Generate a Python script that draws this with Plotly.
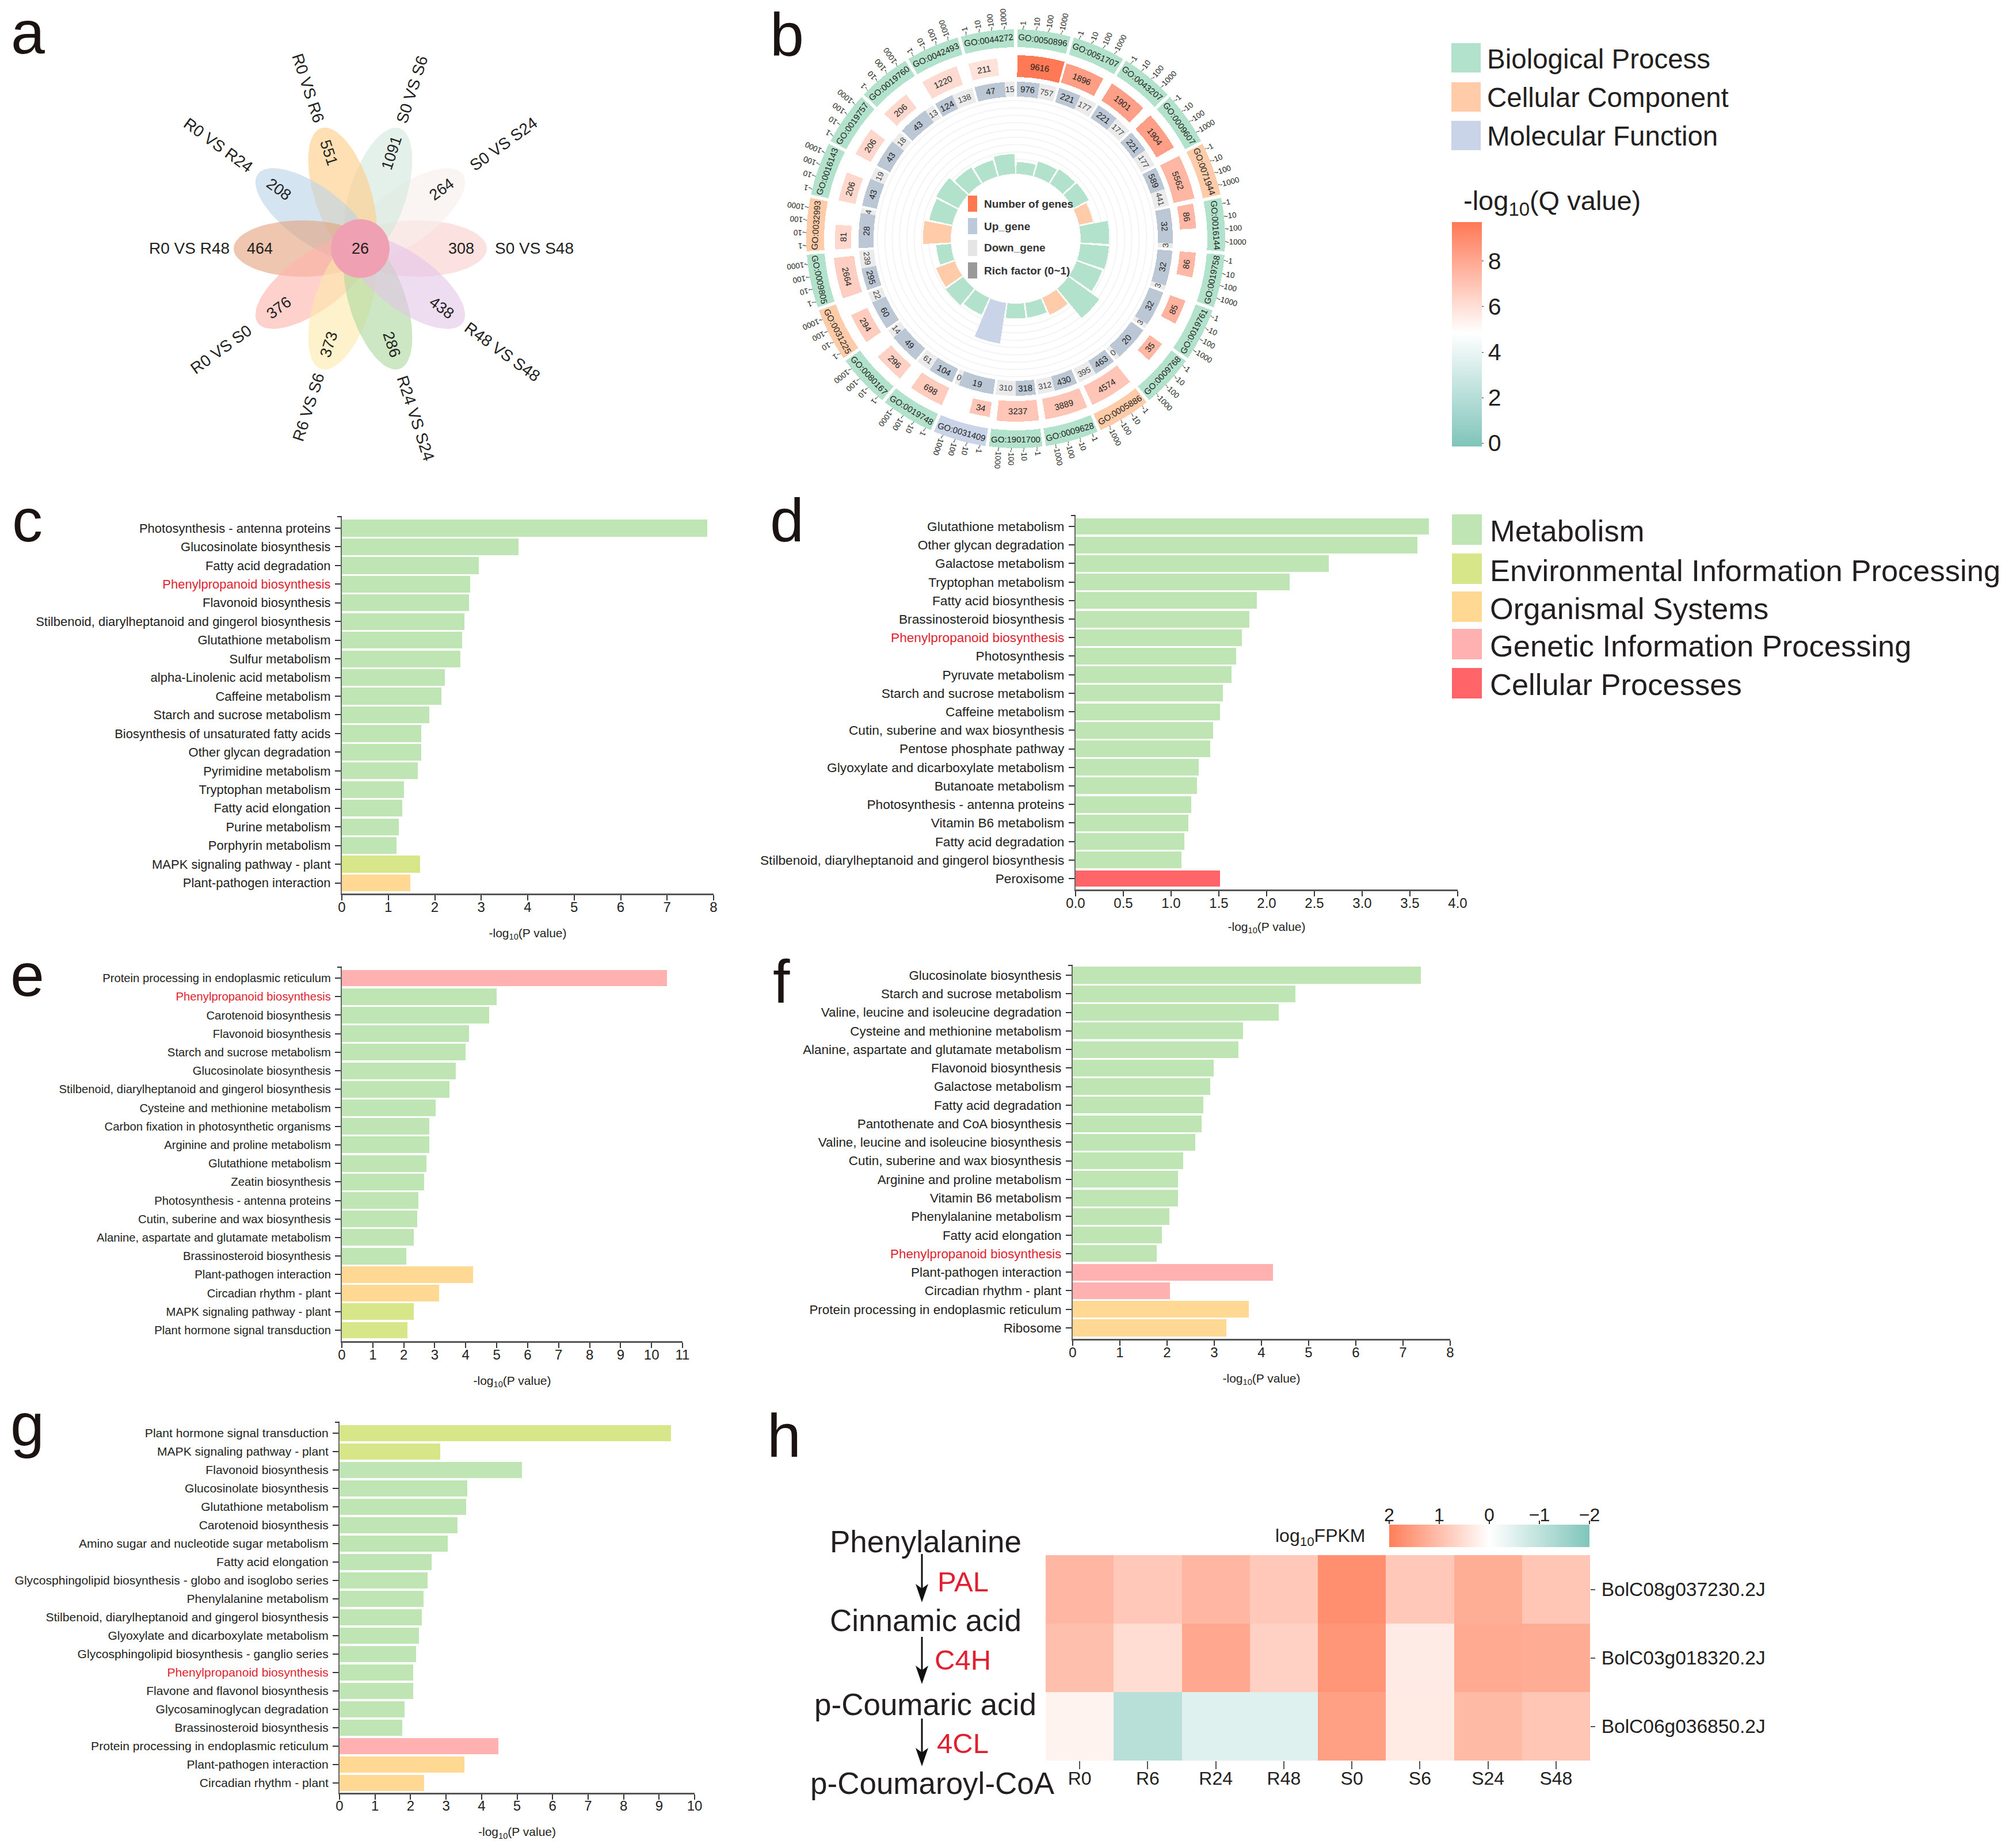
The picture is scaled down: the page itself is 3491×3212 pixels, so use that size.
import math
import plotly.graph_objects as go

W, H = 3491, 3212
FONT = "Liberation Sans"
INK = "#231f20"
RED = "#e01f30"

# ---------- colours ----------
MET, ENV, ORG, GEN, CEL = "#bfe5b5", "#d6e689", "#ffd894", "#ffb0b0", "#ff6468"
CLS = {"M": MET, "E": ENV, "O": ORG, "G": GEN, "C": CEL}
BP, CC, MF = "#b2e2cb", "#ffcba8", "#cad4e8"
GO_CLS = {"B": BP, "C": CC, "F": MF}
UP, DOWN = "#bcc7d6", "#ebebeb"

# ---------- panel a data ----------
petal_labels = ["S0 VS S48", "S0 VS S24", "S0 VS S6", "R0 VS R6", "R0 VS R24",
                "R0 VS R48", "R0 VS S0", "R6 VS S6", "R24 VS S24", "R48 VS S48"]
petal_counts = [308, 264, 1091, 551, 208, 464, 376, 373, 286, 438]
petal_colors = ["rgba(250,205,205,.6)", "rgba(247,238,235,.6)", "rgba(208,232,220,.6)",
                "rgba(255,203,132,.6)", "rgba(185,210,232,.6)", "rgba(229,162,125,.6)",
                "rgba(253,179,172,.6)", "rgba(252,233,168,.6)", "rgba(172,215,157,.6)",
                "rgba(227,197,232,.6)"]
core_count = 26

# ---------- panel b data ----------
go_ids = ["GO:0050896", "GO:0051707", "GO:0043207", "GO:0009607", "GO:0071944", "GO:0016144",
          "GO:0019758", "GO:0019761", "GO:0009768", "GO:0005886", "GO:0009628", "GO:1901700",
          "GO:0031409", "GO:0019748", "GO:0080167", "GO:0031225", "GO:0009805", "GO:0032993",
          "GO:0016143", "GO:0019757", "GO:0019760", "GO:0042493", "GO:0044272"]
go_class = list("BBBBCBBBBCBBFBBCBCBBBBB")
go_genes = [9616, 1896, 1901, 1904, 5562, 86, 86, 85, 35, 4574, 3889, 3237, 34, 698, 296, 294,
            2664, 81, 206, 206, 206, 1220, 211]
go_q = [9.7, 8.36, 8.3, 8.3, 7.5, 7.4, 7.4, 7.6, 7.5, 6.9, 6.9, 6.9, 6.9, 6.7, 6.5, 6.7, 6.6,
        6.3, 6.3, 6.3, 6.3, 6.2, 5.9]
go_up = [976, 221, 221, 221, 589, 32, 32, 32, 20, 463, 430, 318, 19, 104, 49, 60, 295, 28, 43,
         43, 43, 124, 47]
go_down = [757, 177, 177, 177, 441, 3, 3, 3, 0, 395, 312, 310, 0, 61, 14, 22, 239, 4, 19, 18,
           13, 138, 15]
go_rich = [.16, .21, .23, .24, .19, .39, .39, .37, .52, .25, .20, .20, .56, .25, .29, .27, .20,
           .38, .32, .34, .26, .23, .27]
tick_names = ["-1", "-10", "-100", "-1000"]

# ---------- bar panels ----------
c_terms = ["Photosynthesis - antenna proteins", "Glucosinolate biosynthesis", "Fatty acid degradation",
           "Phenylpropanoid biosynthesis", "Flavonoid biosynthesis",
           "Stilbenoid, diarylheptanoid and gingerol biosynthesis", "Glutathione metabolism",
           "Sulfur metabolism", "alpha-Linolenic acid metabolism", "Caffeine metabolism",
           "Starch and sucrose metabolism", "Biosynthesis of unsaturated fatty acids",
           "Other glycan degradation", "Pyrimidine metabolism", "Tryptophan metabolism",
           "Fatty acid elongation", "Purine metabolism", "Porphyrin metabolism",
           "MAPK signaling pathway - plant", "Plant-pathogen interaction"]
c_vals = [7.86, 3.80, 2.95, 2.76, 2.74, 2.64, 2.59, 2.55, 2.22, 2.14, 1.88, 1.71, 1.71, 1.63,
          1.34, 1.30, 1.22, 1.18, 1.69, 1.47]
c_cls = "M" * 18 + "EO"

d_terms = ["Glutathione metabolism", "Other glycan degradation", "Galactose metabolism",
           "Tryptophan metabolism", "Fatty acid biosynthesis", "Brassinosteroid biosynthesis",
           "Phenylpropanoid biosynthesis", "Photosynthesis", "Pyruvate metabolism",
           "Starch and sucrose metabolism", "Caffeine metabolism", "Cutin, suberine and wax biosynthesis",
           "Pentose phosphate pathway", "Glyoxylate and dicarboxylate metabolism", "Butanoate metabolism",
           "Photosynthesis - antenna proteins", "Vitamin B6 metabolism", "Fatty acid degradation",
           "Stilbenoid, diarylheptanoid and gingerol biosynthesis", "Peroxisome"]
d_vals = [3.70, 3.58, 2.65, 2.24, 1.90, 1.82, 1.74, 1.68, 1.63, 1.54, 1.51, 1.44, 1.41, 1.29,
          1.27, 1.21, 1.18, 1.14, 1.11, 1.51]
d_cls = "M" * 19 + "C"

e_terms = ["Protein processing in endoplasmic reticulum", "Phenylpropanoid biosynthesis",
           "Carotenoid biosynthesis", "Flavonoid biosynthesis", "Starch and sucrose metabolism",
           "Glucosinolate biosynthesis", "Stilbenoid, diarylheptanoid and gingerol biosynthesis",
           "Cysteine and methionine metabolism", "Carbon fixation in photosynthetic organisms",
           "Arginine and proline metabolism", "Glutathione metabolism", "Zeatin biosynthesis",
           "Photosynthesis - antenna proteins", "Cutin, suberine and wax biosynthesis",
           "Alanine, aspartate and glutamate metabolism", "Brassinosteroid biosynthesis",
           "Plant-pathogen interaction", "Circadian rhythm - plant", "MAPK signaling pathway - plant",
           "Plant hormone signal transduction"]
e_vals = [10.49, 4.99, 4.75, 4.11, 3.99, 3.68, 3.48, 3.02, 2.82, 2.82, 2.74, 2.65, 2.48, 2.43,
          2.33, 2.08, 4.24, 3.14, 2.33, 2.11]
e_cls = "G" + "M" * 15 + "OOEE"

f_terms = ["Glucosinolate biosynthesis", "Starch and sucrose metabolism",
           "Valine, leucine and isoleucine degradation", "Cysteine and methionine metabolism",
           "Alanine, aspartate and glutamate metabolism", "Flavonoid biosynthesis", "Galactose metabolism",
           "Fatty acid degradation", "Pantothenate and CoA biosynthesis",
           "Valine, leucine and isoleucine biosynthesis", "Cutin, suberine and wax biosynthesis",
           "Arginine and proline metabolism", "Vitamin B6 metabolism", "Phenylalanine metabolism",
           "Fatty acid elongation", "Phenylpropanoid biosynthesis", "Plant-pathogen interaction",
           "Circadian rhythm - plant", "Protein processing in endoplasmic reticulum", "Ribosome"]
f_vals = [7.38, 4.72, 4.37, 3.61, 3.51, 2.99, 2.92, 2.77, 2.73, 2.60, 2.34, 2.23, 2.23, 2.05,
          1.89, 1.78, 4.24, 2.06, 3.73, 3.26]
f_cls = "M" * 16 + "GGOO"

g_terms = ["Plant hormone signal transduction", "MAPK signaling pathway - plant", "Flavonoid biosynthesis",
           "Glucosinolate biosynthesis", "Glutathione metabolism", "Carotenoid biosynthesis",
           "Amino sugar and nucleotide sugar metabolism", "Fatty acid elongation",
           "Glycosphingolipid biosynthesis - globo and isoglobo series", "Phenylalanine metabolism",
           "Stilbenoid, diarylheptanoid and gingerol biosynthesis", "Glyoxylate and dicarboxylate metabolism",
           "Glycosphingolipid biosynthesis - ganglio series", "Phenylpropanoid biosynthesis",
           "Flavone and flavonol biosynthesis", "Glycosaminoglycan degradation", "Brassinosteroid biosynthesis",
           "Protein processing in endoplasmic reticulum", "Plant-pathogen interaction", "Circadian rhythm - plant"]
g_vals = [9.34, 2.83, 5.13, 3.60, 3.57, 3.33, 3.05, 2.59, 2.48, 2.36, 2.31, 2.23, 2.15, 2.07,
          2.07, 1.83, 1.77, 4.48, 3.52, 2.39]
g_cls = "EE" + "M" * 15 + "GOO"

# ---------- panel h data ----------
h_samples = ["R0", "R6", "R24", "R48", "S0", "S6", "S24", "S48"]
h_genes = ["BolC08g037230.2J", "BolC03g018320.2J", "BolC06g036850.2J"]
h_fpkm_1 = [1.12, 0.86, 1.12, 0.86, 1.75, 0.86, 1.27, 0.90]
h_fpkm_2 = [1.00, 0.53, 1.36, 0.73, 1.64, 0.31, 1.33, 1.30]
h_fpkm_3 = [0.19, -1.09, -0.50, -0.50, 1.50, 0.33, 1.08, 0.90]
h_scale_ticks = [2, 1, 0, -1, -2]

fig = go.Figure()
ann = []
shapes = []


def px(x):
    return x / W


def py(y):
    return 1 - y / H


def text(t, x, y, size, angle=0, color=INK, anchor="center"):
    ann.append(dict(text=t, x=px(x), y=py(y), xref="paper", yref="paper", showarrow=False,
                    textangle=angle, xanchor=anchor, yanchor="middle", borderpad=0, borderwidth=0,
                    font=dict(family=FONT, size=size, color=color)))


def rect(x0, y0, x1, y1, color):
    shapes.append(dict(type="rect", xref="paper", yref="paper", x0=px(x0), x1=px(x1),
                       y0=py(y1), y1=py(y0), fillcolor=color, line=dict(width=0)))


# ---------- panel a ----------
CX, CY = 626, 432
hw = 260
fig.update_layout(
    xaxis20=dict(domain=[px(CX - hw), px(CX + hw)], range=[-hw, hw], visible=False, anchor="y20"),
    yaxis20=dict(domain=[py(CY + hw), py(CY - hw)], range=[-hw, hw], visible=False, anchor="x20"),
)
steps = list(range(73))
for i, col in enumerate(petal_colors):
    ang = math.radians(36 * i)
    ex, ey = [], []
    for s in steps:
        t = 2 * math.pi * s / 72
        u = 100 + 120 * math.cos(t)
        v = 49 * math.sin(t)
        ex.append(u * math.cos(ang) - v * math.sin(ang))
        ey.append(u * math.sin(ang) + v * math.cos(ang))
    fig.add_trace(go.Scatter(x=ex, y=ey, mode="lines", fill="toself", fillcolor=col,
                             line=dict(width=0), xaxis="x20", yaxis="y20", hoverinfo="skip"))
fig.add_trace(go.Scatter(x=[51 * math.cos(2 * math.pi * s / 72) for s in steps],
                         y=[51 * math.sin(2 * math.pi * s / 72) for s in steps],
                         mode="lines", fill="toself", fillcolor="#efa0b2", line=dict(width=0),
                         xaxis="x20", yaxis="y20", hoverinfo="skip"))
label_r = [302, 308, 291, 293, 305, 297, 299, 290, 310, 305]
for i, (lab, n) in enumerate(zip(petal_labels, petal_counts)):
    deg = 36 * i
    a = math.radians(deg)
    rot = -deg if deg <= 90 else (180 - deg if deg < 270 else 360 - deg)
    text(lab, CX + label_r[i] * math.cos(a), CY - label_r[i] * math.sin(a), 28, rot)
    text(str(n), CX + 175 * math.cos(a), CY - 175 * math.sin(a), 27, rot)
text(str(core_count), CX, CY, 27)

# ---------- panel b ----------
BX, BY, BR = 1765, 415, 370
N = len(go_ids)
STEP = 360 / N
fig.update_layout(polar=dict(
    domain=dict(x=[px(BX - BR), px(BX + BR)], y=[py(BY + BR), py(BY - BR)]),
    bgcolor="rgba(0,0,0,0)", hole=0,
    angularaxis=dict(direction="clockwise", rotation=90, showgrid=False, showline=False,
                     showticklabels=False, ticks=""),
    radialaxis=dict(range=[0, BR], showline=False, showticklabels=False, ticks="",
                    tickvals=[113 + 12.7 * k for k in range(11)], gridcolor="#f4f4f4", gridwidth=2),
))
starts = [STEP * i for i in range(N)]
mid = [s + STEP / 2 for s in starts]


def flip(th):
    th %= 360
    if th < 90:
        return th
    if th < 270:
        return th - 180
    return th - 360


# outer ID band
fig.add_trace(go.Barpolar(theta=mid, r=[31] * N, base=[333] * N, width=[14.7] * N,
                          marker=dict(color=[GO_CLS[c] for c in go_class], line=dict(width=0)),
                          hoverinfo="skip"))
# number of genes ring, coloured by q value
g_h = [18.6 + 4.9 * math.log10(n) for n in go_genes]
g_w = [1.4 + 3.4 * math.log10(n) for n in go_genes]
g_mid = [s + 0.5 + w / 2 for s, w in zip(starts, g_w)]
g_base = [300 - h / 2 for h in g_h]
fig.add_trace(go.Barpolar(
    theta=g_mid, r=g_h, base=g_base, width=g_w, hoverinfo="skip",
    marker=dict(color=go_q, cmin=-0.15, cmax=9.72, line=dict(width=0),
                colorscale=[[0, "#7fc4ba"], [0.5066, "#ffffff"], [1, "#ff7855"]],
                colorbar=dict(thickness=52, thicknessmode="pixels", len=390, lenmode="pixels",
                              x=px(2523), xanchor="left", y=py(776), yanchor="bottom", xpad=0, ypad=0,
                              outlinewidth=0, tickvals=[0, 2, 4, 6, 8], ticks="outside", ticklen=3,
                              tickcolor="#333", tickfont=dict(family=FONT, size=41, color=INK)))))
# up / down ring
up_t, up_w, dn_t, dn_w = [], [], [], []
for s, u, d in zip(starts, go_up, go_down):
    total_w = STEP - 0.9
    dw = max(total_w * d / (u + d), 1.8)
    uw = total_w - dw
    up_t.append(s + 0.45 + uw / 2)
    up_w.append(uw)
    dn_t.append(s + 0.45 + uw + dw / 2)
    dn_w.append(dw)
fig.add_trace(go.Barpolar(theta=up_t, r=[26] * N, base=[247] * N, width=up_w,
                          marker=dict(color=UP, line=dict(width=0)), hoverinfo="skip"))
fig.add_trace(go.Barpolar(theta=dn_t, r=[26] * N, base=[247] * N, width=dn_w,
                          marker=dict(color=DOWN, line=dict(width=0)), hoverinfo="skip"))
# rich factor ring
fig.add_trace(go.Barpolar(theta=mid, r=[127 * v for v in go_rich], base=[113] * N, width=[14.3] * N,
                          marker=dict(color=[GO_CLS[c] for c in go_class], line=dict(width=0)),
                          hoverinfo="skip"))
# ticks
tick_off = [2.0, 5.6, 9.0, 12.5]
tr, tt = [], []
for s in starts:
    for o in tick_off:
        tr += [364, 367, None]
        tt += [s + o, s + o, None]
fig.add_trace(go.Scatterpolar(r=tr, theta=tt, mode="lines", line=dict(color="#333", width=1),
                              hoverinfo="skip"))


def polar_xy(r, th):
    a = math.radians(th)
    return BX + r * math.sin(a), BY - r * math.cos(a)


tick_len = [11.5, 19, 26.5, 34]
for i in range(N):
    x, y = polar_xy(348.5, mid[i])
    text(go_ids[i], x, y, 15, flip(mid[i]))
    x, y = polar_xy(300, g_mid[i])
    text(str(go_genes[i]), x, y, 15, flip(g_mid[i]))
    x, y = polar_xy(260, up_t[i])
    text(str(go_up[i]), x, y, 15, flip(up_t[i]))
    x, y = polar_xy(260, dn_t[i])
    text(str(go_down[i]), x, y, 14, flip(dn_t[i]), color="#444")
    for o, nm, ln in zip(tick_off, tick_names, tick_len):
        th = starts[i] + o
        x, y = polar_xy(367 + ln / 2, th)
        text(nm, x, y, 13.5, th - 90)

for lab, col, yc in zip(["Number of genes", "Up_gene", "Down_gene", "Rich factor (0~1)"],
                        ["#ff7750", "#bcc9da", "#e5e5e5", "#999999"], [354, 393, 431, 470]):
    rect(1682, yc - 14, 1698, yc + 14, col)
    text("<b>%s</b>" % lab, 1710, yc, 19, anchor="left", color="#333")

for lab, col, y0 in zip(["Biological Process", "Cellular Component", "Molecular Function"],
                        [BP, CC, MF], [75, 143, 210]):
    rect(2522, y0, 2573, y0 + 51, col)
    text(lab, 2584, y0 + 27, 47.5, anchor="left")
text("-log<sub>10</sub>(Q value)", 2543, 352, 47, anchor="left")

# ---------- kegg legend ----------
for lab, col, y0 in zip(["Metabolism", "Environmental Information Processing", "Organismal Systems",
                         "Genetic Information Processing", "Cellular Processes"],
                        [MET, ENV, ORG, GEN, CEL], [894, 962, 1028, 1093, 1161]):
    rect(2523, y0, 2575, y0 + 53, col)
    text(lab, 2589, y0 + 29, 52.5, anchor="left")


# ---------- bar panels ----------
def bar_panel(n, terms, vals, cls, x0, x1, xmax, y_first, y_last, y_axis, y_top, ticks, tickfmt, standoff, lab_size):
    sp = (y_last - y_first) / (len(terms) - 1)
    rb = len(terms) - 1 + (y_axis - y_last) / sp
    rt = -(y_first - y_top) / sp
    ticktext = ['<span style="color:%s">%s</span>' % (RED, t) if t == "Phenylpropanoid biosynthesis" else t
                for t in terms]
    fig.add_trace(go.Bar(x=vals, y=list(range(len(terms))), orientation="h", width=0.9,
                         marker=dict(color=[CLS[c] for c in cls], line=dict(width=0)),
                         xaxis="x%d" % n, yaxis="y%d" % n, hoverinfo="skip"))
    fig.update_layout(**{
        "xaxis%d" % n: dict(domain=[px(x0), px(x1)], range=[0, xmax], anchor="y%d" % n,
                            tickvals=ticks, ticktext=[tickfmt % t for t in ticks], ticks="outside",
                            ticklen=9, tickwidth=2, tickcolor="#333", linecolor="#555", linewidth=3,
                            showgrid=False, zeroline=False, ticklabelstandoff=-9,
                            tickfont=dict(family=FONT, size=24, color=INK),
                            title=dict(text="-log<sub>10</sub>(P value)", standoff=standoff,
                                       font=dict(family=FONT, size=21, color=INK))),
        "yaxis%d" % n: dict(domain=[py(y_axis), py(y_top)], range=[rb, rt], anchor="x%d" % n,
                            tickvals=list(range(len(terms))), ticktext=ticktext, ticks="outside",
                            ticklen=10, tickwidth=2, tickcolor="#333", linecolor="#666", linewidth=2,
                            showgrid=False, zeroline=False, ticklabelstandoff=3,
                            tickfont=dict(family=FONT, size=lab_size, color=INK)),
    })
    shapes.append(dict(type="line", xref="paper", yref="paper", x0=px(x0 - 8), x1=px(x0),
                       y0=py(y_top), y1=py(y_top), line=dict(color="#333", width=2)))


bar_panel(1, c_terms, c_vals, c_cls, 594, 1240, 8, 918, 1534.5, 1553, 898, list(range(9)), "%d", 26, 22)
bar_panel(2, d_terms, d_vals, d_cls, 1869, 2533, 4, 915, 1527, 1546, 896, [.5 * k for k in range(9)], "%.1f", 22, 22.7)
bar_panel(3, e_terms, e_vals, e_cls, 594, 1186, 11, 1700, 2312, 2331, 1681, list(range(12)), "%d", 26, 20.3)
bar_panel(4, f_terms, f_vals, f_cls, 1864, 2520, 8, 1695, 2308, 2327, 1678, list(range(9)), "%d", 26, 22.4)
bar_panel(5, g_terms, g_vals, g_cls, 590, 1207, 10, 2491, 3099, 3115.5, 2472, list(range(11)), "%d", 26, 21.1)

# ---------- panel h ----------
H_SCALE = [[0, "#7fc5ba"], [0.5, "#ffffff"], [1, "#ff7f5a"]]
fig.add_trace(go.Heatmap(z=[h_fpkm_1, h_fpkm_2, h_fpkm_3], x=h_samples, y=h_genes, zmin=-2, zmax=2,
                         colorscale=H_SCALE, showscale=False, xaxis="x6", yaxis="y6", hoverinfo="skip"))
fig.update_layout(
    xaxis6=dict(domain=[px(1817), px(2763)], anchor="y6", type="category", ticks="outside", ticklen=14,
                tickwidth=2, tickcolor="#555", showline=False, showgrid=False, zeroline=False,
                ticklabelstandoff=-11,
                tickfont=dict(family=FONT, size=32, color=INK)),
    yaxis6=dict(domain=[py(3060), py(2703)], anchor="x6", type="category", autorange="reversed",
                side="right", ticks="outside", ticklen=8, tickwidth=2, tickcolor="#555", showline=False,
                showgrid=False, zeroline=False, ticklabelstandoff=4,
                tickfont=dict(family=FONT, size=33.5, color=INK)),
)
fig.add_trace(go.Heatmap(z=[h_scale_ticks], x=h_scale_ticks, y=[0], zmin=-2, zmax=2, zsmooth="best",
                         colorscale=H_SCALE, showscale=False, xaxis="x7", yaxis="y7", hoverinfo="skip"))
fig.update_layout(
    xaxis7=dict(domain=[px(2414), px(2762)], range=[2, -2], anchor="y7", side="top", ticks="outside",
                ticklen=6, tickwidth=2, tickcolor="#333", showline=False, showgrid=False, zeroline=False,
                ticklabelstandoff=-14,
                tickvals=h_scale_ticks, ticktext=["2", "1", "0", "\u22121", "\u22122"],
                tickfont=dict(family=FONT, size=32, color=INK)),
    yaxis7=dict(domain=[py(2689), py(2650)], anchor="x7", visible=False),
)
text("log<sub>10</sub>FPKM", 2294, 2671, 32)

for t, y in zip(["Phenylalanine", "Cinnamic acid", "p-Coumaric acid", "p-Coumaroyl-CoA"],
                [2679, 2816, 2962, 3099]):
    text(t, 1608 if t != "p-Coumaroyl-CoA" else 1620, y, 53)
for t, y in zip(["PAL", "C4H", "4CL"], [2749, 2885, 3030]):
    text(t, 1673, y, 49, color=RED)
AX = 1602
for y0, y1 in [(2701, 2785), (2845, 2927), (2987, 3070)]:
    shapes.append(dict(type="line", xref="paper", yref="paper", x0=px(AX), x1=px(AX),
                       y0=py(y0), y1=py(y1 - 15), line=dict(color="#111", width=3)))
    shapes.append(dict(type="path", xref="paper", yref="paper", fillcolor="#111", line=dict(width=0),
                       path="M %f %f L %f %f L %f %f L %f %f Z" % (
                           px(AX), py(y1), px(AX - 11), py(y1 - 32), px(AX), py(y1 - 24),
                           px(AX + 11), py(y1 - 32))))

# ---------- panel letters ----------
for t, x, y in [("a", 48, 56), ("b", 1367, 60), ("c", 47, 904), ("d", 1367, 904),
                ("e", 47, 1694), ("f", 1358, 1706), ("g", 47, 2476), ("h", 1362, 2495)]:
    text(t, x, y, 106, color="#1a1311")

fig.update_layout(width=W, height=H, margin=dict(l=0, r=0, t=0, b=0, pad=0, autoexpand=False), autosize=False,
                  paper_bgcolor="white", plot_bgcolor="white", showlegend=False,
                  font=dict(family=FONT, color=INK), annotations=ann, shapes=shapes, bargap=0)
fig.write_html("out.html", post_script="document.body.style.margin='0';", config={"displayModeBar": False})
